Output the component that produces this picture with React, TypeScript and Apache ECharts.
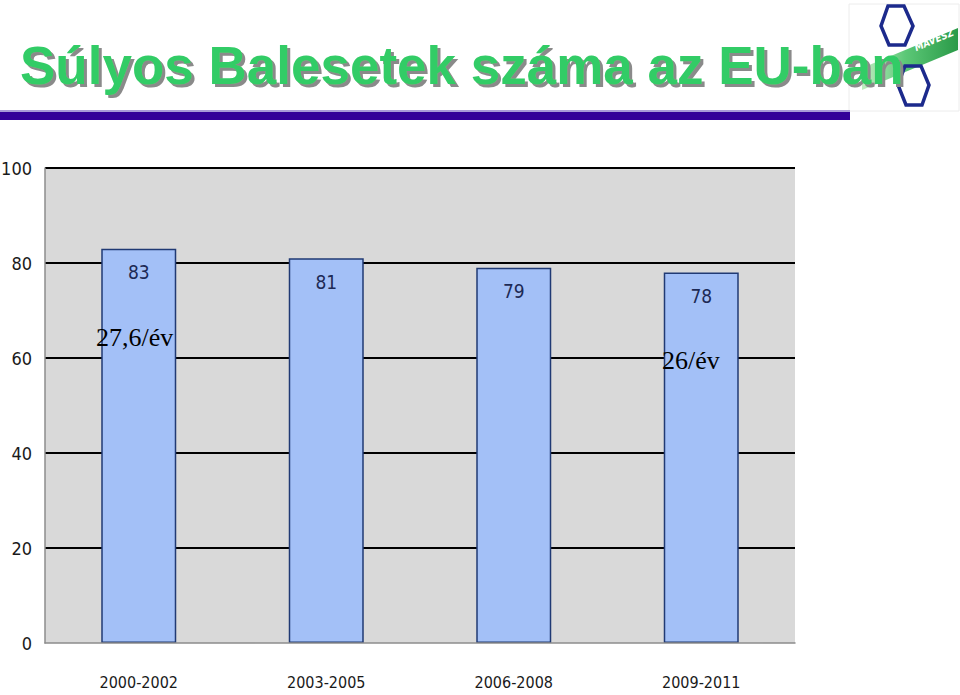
import React, { useEffect, useRef } from "react";
import * as echarts from "echarts";

const categories = ["2000-2002", "2003-2005", "2006-2008", "2009-2011"];
const values = [83, 81, 79, 78];
const yMin = 0;
const yMax = 100;
const yInterval = 20;
const titleText = "Súlyos Balesetek száma az EU-ban";
const noteLeft = "27,6/év";
const noteRight = "26/év";
const logoText = "MAVESZ";

const narrow = "'Liberation Sans Narrow', 'DejaVu Sans Condensed', 'Arial Narrow', sans-serif";

export default function App() {
  const ref = useRef<HTMLDivElement>(null);
  useEffect(() => {
    if (!ref.current) return;
    const chart = echarts.init(ref.current, undefined, { renderer: "svg" });
    const hexStyle = { fill: "none", stroke: "#1c2a8c", lineWidth: 3.5 };
    chart.setOption({
      animation: false,
      backgroundColor: "#ffffff",
      grid: {
        left: 45,
        right: 165,
        top: 168,
        bottom: 52,
        show: true,
        backgroundColor: "#d9d9d9",
        borderWidth: 0,
        containLabel: false,
        outerBoundsMode: "none",
      },
      xAxis: {
        type: "category",
        data: categories,
        z: 3,
        axisLine: { show: true, lineStyle: { color: "#8c8c8c", width: 1.5 } },
        axisTick: { show: false },
        axisLabel: {
          margin: 31,
          fontFamily: narrow,
          fontSize: 16,
          color: "#1a1a1a",
        },
      },
      yAxis: {
        type: "value",
        min: yMin,
        max: yMax,
        interval: yInterval,
        axisLine: { show: true, lineStyle: { color: "#8c8c8c", width: 1.5 } },
        axisTick: { show: false },
        axisLabel: {
          margin: 13,
          fontFamily: narrow,
          fontSize: 18,
          color: "#1a1a1a",
        },
        splitLine: { show: true, showMinLine: false, lineStyle: { color: "#000000", width: 2 } },
      },
      series: [
        {
          type: "bar",
          data: values,
          barWidth: "40%",
          itemStyle: { color: "#a3c0f7", borderColor: "#203a74", borderWidth: 1.5 },
          label: {
            show: true,
            position: "insideTop",
            distance: 14,
            fontFamily: narrow,
            fontSize: 19,
            color: "#1d2a55",
          },
        },
      ],
      graphic: [
        {
          type: "rect",
          shape: { x: 849, y: 4, width: 110, height: 107 },
          style: { fill: "#ffffff", stroke: "#ececec", lineWidth: 1 },
        },
        {
          type: "polygon",
          shape: {
            points: [
              [862, 90],
              [958, 50],
              [958, 28],
              [862, 68],
            ],
          },
          style: {
            fill: new echarts.graphic.LinearGradient(0, 0, 1, 0, [
              { offset: 0, color: "#c2ecc2" },
              { offset: 0.45, color: "#5cc877" },
              { offset: 1, color: "#2a9a48" },
            ]),
          },
        },
        {
          type: "polygon",
          shape: {
            points: [
              [888, 6],
              [904, 6],
              [913, 26],
              [905, 45],
              [889, 45],
              [881, 26],
            ],
          },
          style: hexStyle,
        },
        {
          type: "polygon",
          shape: {
            points: [
              [905, 66],
              [921, 66],
              [929, 85],
              [922, 105],
              [906, 105],
              [898, 85],
            ],
          },
          style: hexStyle,
        },
        {
          type: "text",
          x: 934,
          y: 40,
          rotation: (23 * Math.PI) / 180,
          style: {
            text: logoText,
            fill: "#ffffff",
            font: "italic bold 10px 'DejaVu Sans Condensed', sans-serif",
            align: "center",
            verticalAlign: "middle",
          },
        },
        {
          type: "rect",
          shape: { x: 0, y: 110, width: 850, height: 2 },
          style: { fill: "#a89ad8" },
        },
        {
          type: "rect",
          shape: { x: 0, y: 112, width: 850, height: 8 },
          style: { fill: "#330099" },
        },
        {
          type: "text",
          x: 20,
          y: 65,
          z: 10,
          style: {
            text: titleText,
            fill: "#33cc66",
            font: "bold 53px 'Liberation Sans', Arial, sans-serif",
            align: "left",
            verticalAlign: "middle",
            textShadowColor: "#8a8a8a",
            textShadowOffsetX: 3,
            textShadowOffsetY: 3,
            textShadowBlur: 1,
          },
        },
        {
          type: "text",
          x: 96,
          y: 350,
          z: 10,
          style: {
            text: noteLeft,
            fill: "#000000",
            font: "26px 'Liberation Serif', 'Times New Roman', serif",
            align: "left",
            verticalAlign: "bottom",
          },
        },
        {
          type: "text",
          x: 662,
          y: 373,
          z: 10,
          style: {
            text: noteRight,
            fill: "#000000",
            font: "26px 'Liberation Serif', 'Times New Roman', serif",
            align: "left",
            verticalAlign: "bottom",
          },
        },
      ],
    });
    return () => chart.dispose();
  }, []);
  return (
    <div
      ref={ref}
      style={{ position: "fixed", left: 0, top: 0, width: 960, height: 695 }}
    />
  );
}
